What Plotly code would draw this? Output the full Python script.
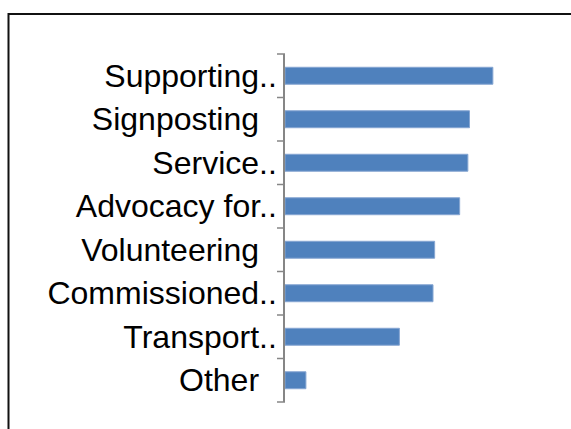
import plotly.graph_objects as go

# Service areas, listed top to bottom
categories = [
    "Supporting..",
    "Signposting\u00a0\u00a0",
    "Service..",
    "Advocacy for..",
    "Volunteering\u00a0\u00a0",
    "Commissioned..",
    "Transport..",
    "Other\u00a0\u00a0",
]
values = [50.7, 45.0, 44.6, 42.6, 36.5, 36.1, 27.9, 5.1]

W, H = 571, 429
M_L, M_R, M_T, M_B = 285, 40, 54, 27
plot_w = W - M_L - M_R
plot_h = H - M_T - M_B

n = len(categories)
cat_range = [n - 0.5, -0.5]
boundaries = [i - 0.5 for i in range(n + 1)]
axis_grey = "#868686"
tick_len_px = 8


def to_paper_y(v):
    """Convert a category-axis position to paper units (axis is reversed)."""
    return (cat_range[0] - v) / (cat_range[0] - cat_range[1])


fig = go.Figure(
    go.Bar(
        x=values,
        y=categories,
        orientation="h",
        width=0.39,
        marker=dict(color="#4F81BD", line=dict(color="#86a6d2", width=1)),
        hoverinfo="skip",
    )
)

# Tick marks between categories, outside the category axis line
for b in boundaries:
    yp = to_paper_y(b)
    fig.add_shape(
        type="line",
        xref="paper", yref="paper",
        x0=-tick_len_px / plot_w, x1=0,
        y0=yp, y1=yp,
        line=dict(color=axis_grey, width=1.5),
        layer="above",
    )

# Outer chart frame (extends past the right and bottom edges)
fig.add_shape(
    type="rect",
    xref="paper", yref="paper",
    x0=(8.5 - M_L) / plot_w, x1=2.0,
    y0=-1.0, y1=(H - M_B - 14) / plot_h,
    line=dict(color="#111111", width=2),
    fillcolor="rgba(0,0,0,0)",
    layer="above",
)

fig.update_layout(
    width=W,
    height=H,
    margin=dict(l=M_L, r=M_R, t=M_T, b=M_B, pad=0),
    paper_bgcolor="white",
    plot_bgcolor="white",
    showlegend=False,
    font=dict(family="Arial, Liberation Sans, sans-serif", size=32, color="#000000"),
    xaxis=dict(visible=False, range=[0, 60], showgrid=False, zeroline=False),
    yaxis=dict(
        type="category",
        range=cat_range,
        showgrid=False,
        zeroline=False,
        showline=True,
        linecolor=axis_grey,
        linewidth=1.5,
        ticks="",
        tickfont=dict(size=32, color="#000000"),
    ),
)

fig.write_html("out.html")
